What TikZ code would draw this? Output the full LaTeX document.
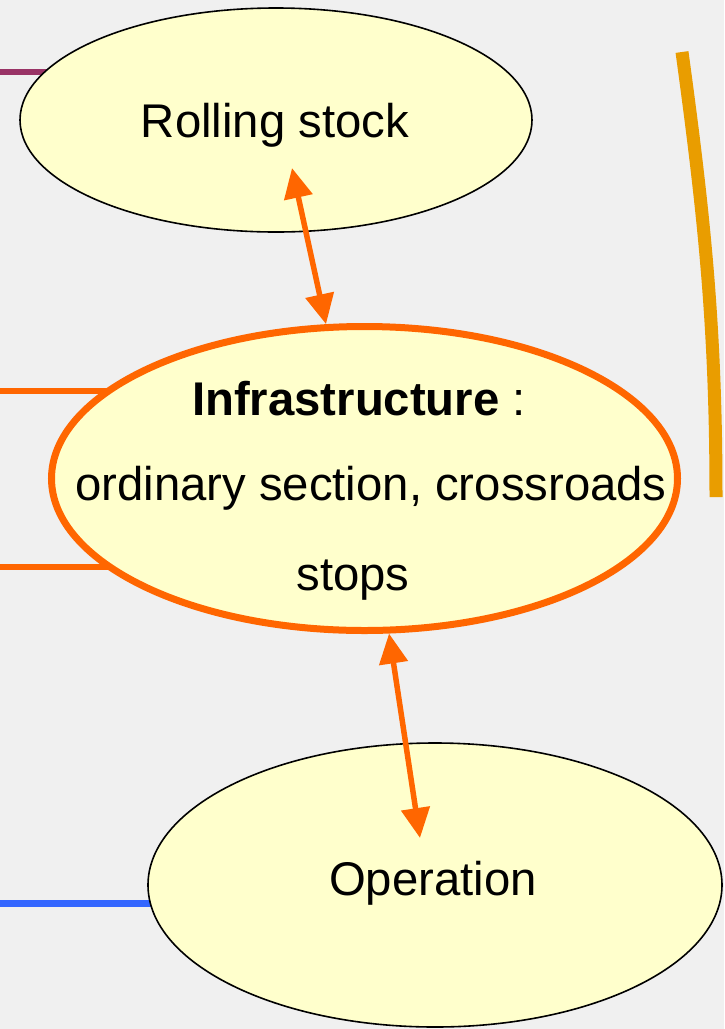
\documentclass[tikz,border=0pt]{standalone}
\usepackage{fontspec}
\setmainfont{Liberation Sans}
\usetikzlibrary{shapes.geometric,arrows.meta,backgrounds}
\definecolor{bg}{HTML}{F0F0F0}
\definecolor{ellfill}{HTML}{FFFFCC}
\definecolor{orangeline}{HTML}{FF6600}
\definecolor{purpleline}{HTML}{993366}
\definecolor{blueline}{HTML}{3366FF}
\definecolor{goldline}{HTML}{E99D00}
\tikzset{
  ellbox/.style={ellipse, fill=ellfill, draw=black, line width=1.6pt, inner sep=0pt},
  infrabox/.style={ellipse, fill=ellfill, draw=orangeline, line width=7pt, inner sep=0pt},
  lbl/.style={anchor=base, inner sep=0pt, font=\fontsize{47.3}{56}\selectfont},
  dbl/.style={draw=orangeline, line width=5.5pt, {Triangle[length=30pt,width=28pt]}-{Triangle[length=30pt,width=28pt]}},
  sideline/.style={line width=6.5pt}
}
\begin{document}
\begin{tikzpicture}[x=1pt,y=-1pt]
\useasboundingbox (0,0) rectangle (724,1029);
% ellipses
\node[ellbox, minimum width=512pt, minimum height=224pt] (rs) at (276,120) {};
\node[infrabox, minimum width=626pt, minimum height=304pt] (infra) at (364.5,478.5) {};
\node[ellbox, minimum width=574pt, minimum height=284pt] (op) at (435,885) {};
% texts
\node[lbl] (rstxt) at (275,137) {Rolling stock};
\node[lbl] (inftxt) at (359,415) {\textbf{Infrastructure} :};
\node[lbl] (ordtxt) at (371,500) {ordinary section, crossroads};
\node[lbl] (stptxt) at (353,590) {stops};
\node[lbl] (optxt) at (433,895) {Operation};
% arrows
\coordinate (a1) at (292,168);
\draw[dbl] (a1) -- (infra.104.6);
\coordinate (a2) at (420,838);
\draw[dbl] (infra.279) -- (a2);
% background layer: background and side lines
\begin{scope}[on background layer]
  \fill[bg] (0,0) rectangle (724,1029);
  \coordinate (lp) at (0,72);
  \draw[sideline, purpleline] (lp) -- (lp -| rs.center);
  \coordinate (lo1) at (0,391);
  \draw[sideline, orangeline, line width=6pt] (lo1) -- (lo1 -| infra.center);
  \coordinate (lo2) at (0,567);
  \draw[sideline, orangeline, line width=6pt] (lo2) -- (lo2 -| infra.center);
  \coordinate (lb) at (0,903);
  \draw[sideline, blueline, line width=7pt] (lb) -- (lb -| op.center);
\end{scope}
% gold bracket
\coordinate (g1) at (682,52);
\coordinate (g2) at (716,497);
\draw[goldline, line width=13pt] (g1) .. controls (705,220) and (716,330) .. (g2);
\end{tikzpicture}
\end{document}
